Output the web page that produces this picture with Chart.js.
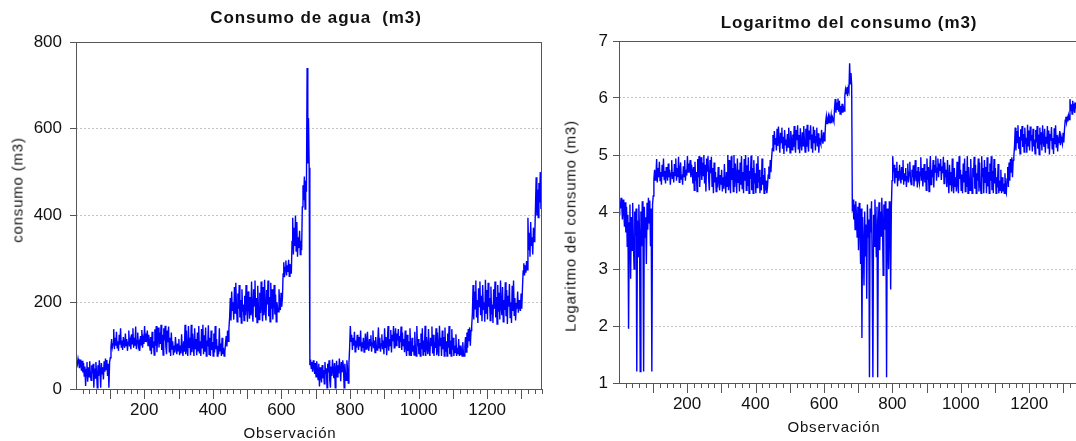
<!DOCTYPE html>
<html lang="es">
<head>
<meta charset="utf-8">
<title>Consumo de agua</title>
<script src="https://cdn.jsdelivr.net/npm/chart.js@4.4.1/dist/chart.umd.min.js"></script>
<style>
  html, body { margin: 0; padding: 0; background: #fff; }
  body { width: 1076px; height: 441px; overflow: hidden; position: relative;
         font-family: 'Liberation Sans', Arial, sans-serif; color: #111; }
  canvas { position: absolute; top: 0; }
  .titulo { position: absolute; font-weight: bold; font-size: 17px; letter-spacing: 0.9px;
            white-space: pre; transform: translate(-50%, -50%); }
  .eje { position: absolute; font-weight: normal; font-size: 15px; letter-spacing: 0.8px; white-space: pre;
         transform: translate(-50%, -50%); }
  .eje.vert { transform: translate(-50%, -50%) rotate(-90deg); }
</style>
</head>
<body>
<canvas id="graficoConsumo" width="548" height="441" style="left:0;width:548px;height:441px"></canvas>
<canvas id="graficoLog" width="542" height="441" style="left:548px;width:542px;height:441px"></canvas>

<div class="titulo" style="left:316px;top:18px">Consumo de agua  (m3)</div>
<div class="titulo" style="left:849px;top:23px">Logaritmo del consumo (m3)</div>
<div class="eje vert" style="left:17px;top:190px">consumo (m3)</div>
<div class="eje vert" style="left:570px;top:226px">Logaritmo del consumo (m3)</div>
<div class="eje" style="left:290px;top:432px">Observación</div>
<div class="eje" style="left:834px;top:426px">Observación</div>

<script>
// una lectura cada 2 observaciones
const PASO_OBS = 2;
const etiquetasObs = [200, 400, 600, 800, 1000, 1200];

// consumo (m3) por tramos
const consumoA = [52,66,58,70,61,48,68,55,42,65,38,60,30,52,7,45,62,17,50,28,64,33,20,55,36,58,3,47,25,62,38,3,55,30,66,42,3,60,35,50,22,64,40,70,45,67,30,58,3,62];
const consumoB = [72,98,115,96,104,138,92,118,100,132,95,110,88,125,102,140,97,112,90,120,105,95,128,100,115,88,108,135,98,110,92,126,104,140,95,118,100,144,92,112,130,98,106,88,122,102,136,95,115,104,145,110,128,118,135,100,125,112,90,120,
  80,132,95,110,78,138,100,145,85,120,142,96,130,104,148,90,125,78,140,112,146,98,80,135,108,144,86,118,76,130,92,110,78,100,84,120,96,80,105,88,115,78,100,82,126,92,76,110,86,148,80,135,90,76,145,96,118,78,148,85,128,100,76,140,92,115,78,130,88,145,82,110,76,138,95,148,80,124,86,142,76,112,98,147,80,118,76,135,90,108,76,128,84,145,92,115,76,100,80,140,88,105,76,118,80,95,76,85,105,122,98,135,110,140];
const consumoC = [165,210,158,225,180,200,160,235,175,245,190,155,220,185,240,165,205,152,230,178,195,158,215,170,240,188,155,225,196,162,212,170,248,180,155,230,192,250,165,210,153,238,185,160,222,175,248,190,156,235,170,252,182,158,228,195,250,168,212,155,245,185,230,160,205,240,172,218,155,200,185,178,230,195,182,222,190,210];
const consumoD = [265,292,258,280,296,262,285,270,298,260,288,275,266,340,395,310,372,330,400,318,385,305,350,325,365,310,342,320,420,470,435,490,415,480,455];
const consumoP = [740,520,625,510];
const consumoE = [55,68,48,62,40,66,52,35,60,28,64,45,22,58,6,50,30,15,55,25,44,12,62,35,48,3,58,38,66,20,3,52,30,68,42,25,60,3,45,65,28,55,36,70,48,18,62,40,66,50,3,58,35,20,66,45,14,60];
const consumoF = [95,145,110,125,90,118,100,132,86,112,95,125,104,90,120,98,135,88,108,95,118,85,102,128,92,110,132,96,88,115,100,124,86,106,135,94,112,84,120,98,90,110,142,95,118,86,104,126,92,112,80,140,96,120,78,108,145,88,115,100,136,84,125,110,145,95,118,140,100,128,112,138,96,122,108,144,90,130,100,115,85,135,98,76,125,88,110,78,140,92,76,118,86,100,78,132,90,76,145,98,115,80,106,76,128,92,140,78,112,85,146,76,120,96,80,138,90,76,118,100,144,82,125,76,108,95,140,78,130,88,76,146,100,118,76,135,92,120,76,142,86,110,76,128,95,145,80,112,76,138,90,118,76,100,84,126,76,95,80,115,76,100,78,90,76,108,80,76,98,120,85,130,95,138,110,142,100,135,145];
const consumoG = [175,240,160,225,185,250,165,205,152,232,190,248,170,215,156,240,182,200,155,252,175,228,160,245,190,210,158,236,172,195,152,230,185,248,165,212,150,240,178,222,160,250,190,170,235,155,205,182,246,168,228,150,215,190,242,165,200,152,238,180,250,170,210,158,198,185,225,176,205,190,180,220,185,232];
const consumoH = [272,290,262,285,268,295,275,395,320,360,305,385,330,350,310,372,340,355,420,488,400,460,395,475,430,500,415,470];

// logaritmo del consumo por tramos
const logA = [3.95,4.19,4.06,4.25,4.11,3.87,4.22,4.01,3.74,4.17,3.64,4.09,3.40,3.95,1.95,3.81,4.13,2.83,3.91,3.33,4.16,3.50,3.00,4.01,3.58,4.06,1.20,3.85,3.22,4.13,3.64,1.20,4.01,3.40,4.19,3.74,1.20,4.09,3.56,3.91,3.09,4.16,3.69,4.25,3.81,4.20,3.40,4.06,1.20,4.13];
const logB = [4.28,4.58,4.74,4.56,4.64,4.93,4.52,4.77,4.61,4.88,4.55,4.70,4.48,4.83,4.62,4.94,4.57,4.72,4.50,4.79,4.65,4.55,4.85,4.61,4.74,4.48,4.68,4.91,4.58,4.70,4.52,4.84,4.64,4.94,4.55,4.77,4.61,4.97,4.52,4.72,4.87,4.58,4.66,4.48,4.80,4.62,4.91,4.55,4.74,4.64,4.98,4.70,4.85,4.77,4.91,4.61,4.83,4.72,4.50,4.79,
  4.38,4.88,4.55,4.70,4.36,4.93,4.61,4.98,4.44,4.79,4.96,4.56,4.87,4.64,5.00,4.50,4.83,4.36,4.94,4.72,4.98,4.58,4.38,4.91,4.68,4.97,4.45,4.77,4.33,4.87,4.52,4.70,4.36,4.61,4.43,4.79,4.56,4.38,4.65,4.48,4.74,4.36,4.61,4.41,4.84,4.52,4.33,4.70,4.45,5.00,4.38,4.91,4.50,4.33,4.98,4.56,4.77,4.36,5.00,4.44,4.85,4.61,4.33,4.94,4.52,4.74,4.36,4.87,4.48,4.98,4.41,4.70,4.33,4.93,4.55,5.00,4.38,4.82,4.45,4.96,4.33,4.72,4.58,4.99,4.38,4.77,4.33,4.91,4.50,4.68,4.33,4.85,4.43,4.98,4.52,4.74,4.33,4.61,4.38,4.94,4.48,4.65,4.33,4.77,4.38,4.55,4.33,4.44,4.65,4.80,4.58,4.91,4.70,4.94];
const logC = [5.11,5.35,5.06,5.42,5.19,5.30,5.08,5.46,5.16,5.50,5.25,5.04,5.39,5.22,5.48,5.11,5.32,5.02,5.44,5.18,5.27,5.06,5.37,5.14,5.48,5.24,5.04,5.42,5.28,5.09,5.36,5.14,5.51,5.19,5.04,5.44,5.26,5.52,5.11,5.35,5.03,5.47,5.22,5.08,5.40,5.16,5.51,5.25,5.05,5.46,5.14,5.53,5.20,5.06,5.43,5.27,5.52,5.12,5.36,5.04,5.50,5.22,5.44,5.08,5.32,5.48,5.15,5.38,5.04,5.30,5.22,5.18,5.44,5.27,5.20,5.40,5.25,5.35];
const logD = [5.58,5.68,5.55,5.63,5.69,5.57,5.65,5.60,5.70,5.56,5.66,5.62,5.58,5.83,5.98,5.74,5.92,5.80,5.99,5.76,5.95,5.72,5.86,5.78,5.90,5.74,5.83,5.77,6.04,6.15,6.08,6.19,6.03,6.17,6.12];
const logP = [6.61,6.25,6.44,6.23];
const logE = [4.01,4.22,3.87,4.13,3.69,4.19,3.95,3.56,4.09,3.33,4.16,3.81,3.09,4.06,1.79,3.91,3.40,2.71,4.01,3.22,3.78,2.48,4.13,3.56,3.87,1.10,4.06,3.64,4.19,3.00,1.10,3.95,3.40,4.22,3.74,3.22,4.09,1.10,3.81,4.17,3.33,4.01,3.58,4.25,3.87,2.89,4.13,3.69,4.19,3.91,1.10,4.06,3.56,3.00,4.19,3.81,2.64,4.09];
const logF = [4.55,4.98,4.70,4.83,4.50,4.77,4.61,4.88,4.45,4.72,4.55,4.83,4.64,4.50,4.79,4.58,4.91,4.48,4.68,4.55,4.77,4.44,4.62,4.85,4.52,4.70,4.88,4.56,4.48,4.74,4.61,4.82,4.45,4.66,4.91,4.54,4.72,4.43,4.79,4.58,4.50,4.70,4.96,4.55,4.77,4.45,4.64,4.84,4.52,4.72,4.38,4.94,4.56,4.79,4.36,4.68,4.98,4.48,4.74,4.61,4.91,4.43,4.83,4.70,4.98,4.55,4.77,4.94,4.61,4.85,4.72,4.93,4.56,4.80,4.68,4.97,4.50,4.87,4.61,4.74,4.44,4.91,4.58,4.33,4.83,4.48,4.70,4.36,4.94,4.52,4.33,4.77,4.45,4.61,4.36,4.88,4.50,4.33,4.98,4.58,4.74,4.38,4.66,4.33,4.85,4.52,4.94,4.36,4.72,4.44,4.98,4.33,4.79,4.56,4.38,4.93,4.50,4.33,4.77,4.61,4.97,4.41,4.83,4.33,4.68,4.55,4.94,4.36,4.87,4.48,4.33,4.98,4.61,4.77,4.33,4.91,4.52,4.79,4.33,4.96,4.45,4.70,4.33,4.85,4.55,4.98,4.38,4.72,4.33,4.93,4.50,4.77,4.33,4.61,4.43,4.84,4.33,4.55,4.38,4.74,4.33,4.61,4.36,4.50,4.33,4.68,4.38,4.33,4.58,4.79,4.44,4.87,4.55,4.93,4.70,4.96,4.61,4.91,4.98];
const logG = [5.16,5.48,5.08,5.42,5.22,5.52,5.11,5.32,5.02,5.45,5.25,5.51,5.14,5.37,5.05,5.48,5.20,5.30,5.04,5.53,5.16,5.43,5.08,5.50,5.25,5.35,5.06,5.46,5.15,5.27,5.02,5.44,5.22,5.51,5.11,5.36,5.01,5.48,5.18,5.40,5.08,5.52,5.25,5.14,5.46,5.04,5.32,5.20,5.51,5.12,5.43,5.01,5.37,5.25,5.49,5.11,5.30,5.02,5.47,5.19,5.52,5.14,5.35,5.06,5.29,5.22,5.42,5.17,5.32,5.25,5.19,5.39,5.22,5.45];
const logH = [5.61,5.67,5.57,5.65,5.59,5.69,5.62,5.98,5.77,5.89,5.72,5.95,5.80,5.86,5.74,5.92,5.83,5.87,6.04,6.19,5.99,6.13,5.98,6.16,6.06,6.21,6.03,6.15];

// observación inicial de cada tramo
const tramos = [
  { desde: 1,    consumo: consumoA, log: logA },
  { desde: 101,  consumo: consumoB, log: logB },
  { desde: 449,  consumo: consumoC, log: logC },
  { desde: 605,  consumo: consumoD, log: logD },
  { desde: 675,  consumo: consumoP, log: logP },
  { desde: 683,  consumo: consumoE, log: logE },
  { desde: 799,  consumo: consumoF, log: logF },
  { desde: 1157, consumo: consumoG, log: logG },
  { desde: 1305, consumo: consumoH, log: logH },
];

function puntos(campo) {
  const lista = [];
  tramos.forEach(t => {
    t[campo].forEach((v, i) => lista.push({ x: t.desde + i * PASO_OBS, y: v }));
  });
  return lista;
}

const fuente = { family: "'Liberation Sans', Arial, sans-serif", size: 17 };

// marco completo y marcas del eje X (cortas cada 20, largas cada 100)
const marcoEViews = {
  id: 'marcoEViews',
  afterDraw(chart) {
    const { ctx, chartArea: a } = chart;
    const x = chart.scales.x;
    ctx.save();
    ctx.strokeStyle = '#555';
    ctx.lineWidth = 1;
    ctx.strokeRect(Math.round(a.left) + 0.5, Math.round(a.top) + 0.5,
                   Math.round(a.right - a.left) - 1, Math.round(a.bottom - a.top));
    ctx.beginPath();
    x.ticks.forEach(t => {
      const px = Math.round(x.getPixelForValue(t.value)) + 0.5;
      const largo = t.value % 100 === 0 ? 10 : 5;
      ctx.moveTo(px, a.bottom);
      ctx.lineTo(px, a.bottom + largo);
    });
    ctx.stroke();
    ctx.restore();
  }
};

function crearGrafico(id, datos, cfg) {
  const ctx = document.getElementById(id).getContext('2d');
  return new Chart(ctx, {
    type: 'line',
    data: {
      datasets: [{
        data: datos,
        borderColor: '#0000ff',
        borderWidth: 1.4,
        pointRadius: 0,
        tension: 0,
        fill: false,
      }]
    },
    options: {
      responsive: false,
      animation: false,
      parsing: false,
      normalized: true,
      layout: { padding: { top: cfg.arriba, right: 6, bottom: 0, left: 0 } },
      plugins: { legend: { display: false }, tooltip: { enabled: false }, title: { display: false } },
      scales: {
        x: {
          type: 'linear',
          min: 1,
          max: 1360,
          afterBuildTicks: s => {
            const marcas = [];
            for (let v = 20; v <= 1360; v += 20) marcas.push({ value: v });
            s.ticks = marcas;
          },
          afterFit: s => { s.height = cfg.altoX; },
          grid: { display: false, drawTicks: true, tickLength: 6 },
          border: { display: false },
          ticks: {
            autoSkip: false,
            maxRotation: 0,
            padding: 5,
            color: '#111',
            font: fuente,
            callback: v => etiquetasObs.includes(v) ? String(v) : '',
          },
        },
        y: {
          min: cfg.min,
          max: cfg.max,
          afterFit: s => { s.width = cfg.anchoY; },
          grid: {
            color: c => (c.tick.value === cfg.min || c.tick.value === cfg.max) ? 'rgba(0,0,0,0)' : '#c4c4c4',
            tickColor: '#555',
            tickLength: 6,
            tickBorderDash: [],
          },
          border: { display: false, dash: [2, 2] },
          ticks: { stepSize: cfg.paso, padding: cfg.pad, color: '#111', font: fuente },
        },
      },
    },
    plugins: [marcoEViews],
  });
}

crearGrafico('graficoConsumo', puntos('consumo'),
  { min: 0, max: 800, paso: 200, anchoY: 76, altoX: 52, arriba: 42, pad: 8 });
crearGrafico('graficoLog', puntos('log'),
  { min: 1, max: 7, paso: 1, anchoY: 71, altoX: 58, arriba: 41, pad: 5 });
</script>
</body>
</html>
